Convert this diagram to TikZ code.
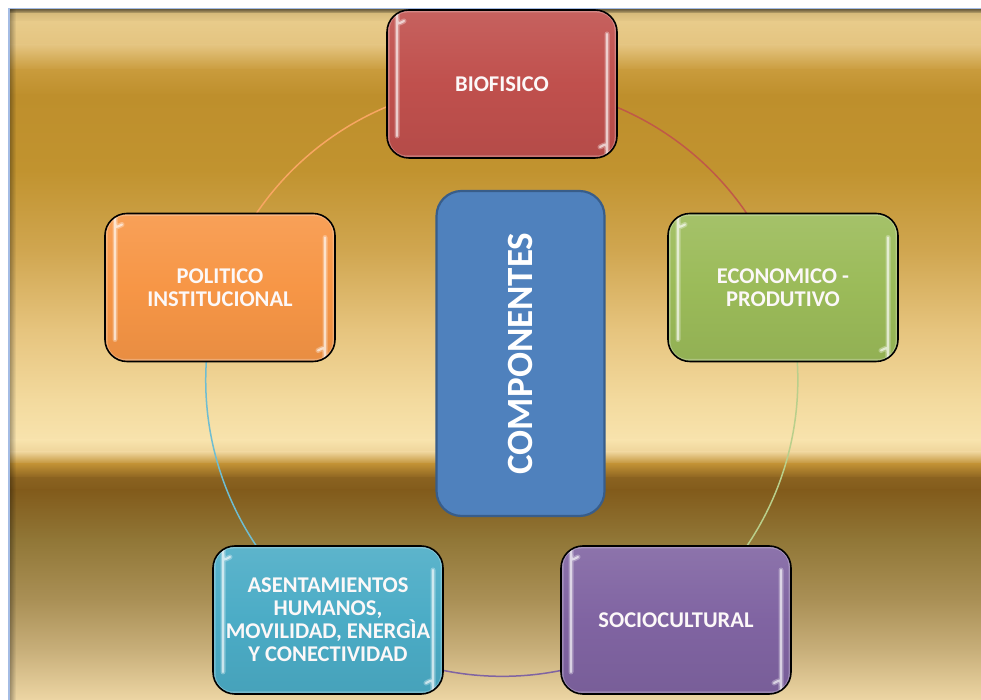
\documentclass[tikz,border=0pt]{standalone}
\usepackage{fontspec}
\setmainfont{Carlito}
\pgfdeclarelayer{back}
\pgfdeclarelayer{arcs}
\pgfsetlayers{back,arcs,main}
\definecolor{cred}{HTML}{C0504D}
\definecolor{cgreen}{HTML}{9BBB59}
\definecolor{corange}{HTML}{F79646}
\definecolor{cteal}{HTML}{4BACC6}
\definecolor{cpurple}{HTML}{8064A2}
\definecolor{cblue}{HTML}{4F81BD}
\definecolor{cblueb}{HTML}{385D8A}
\definecolor{cline}{HTML}{A4BCE4}
\definecolor{g0}{HTML}{8C7A50}
\definecolor{g1}{HTML}{D8BC7C}
\definecolor{g2}{HTML}{E8CB8A}
\definecolor{g3}{HTML}{E4C480}
\definecolor{g4}{HTML}{C99B3C}
\definecolor{g5}{HTML}{BE8F2C}
\definecolor{g6}{HTML}{C1932F}
\definecolor{g7}{HTML}{D0A650}
\definecolor{g8}{HTML}{E6C47E}
\definecolor{g9}{HTML}{F3DA9E}
\definecolor{g10}{HTML}{F8E3AD}
\definecolor{g11}{HTML}{EED49A}
\definecolor{g12}{HTML}{C09034}
\definecolor{g13}{HTML}{8A6220}
\definecolor{g14}{HTML}{825B1B}
\definecolor{g15}{HTML}{917737}
\definecolor{g16}{HTML}{AA9056}
\definecolor{g17}{HTML}{C8AF7A}
\definecolor{g18}{HTML}{EDD6A4}
\tikzset{
  gloss/.style={path picture={
    \draw[white, opacity=0.25, line width=5pt, rounded corners=20pt]
      (path picture bounding box.south west) rectangle (path picture bounding box.north east);
    \draw[white, opacity=0.3, line width=5pt, line cap=round]
      ([xshift=17pt,yshift=-11pt]path picture bounding box.north west)
      to[out=200,in=90] ([xshift=10pt,yshift=-24pt]path picture bounding box.north west)
      -- ([xshift=10pt,yshift=22pt]path picture bounding box.south west);
    \draw[white, opacity=0.3, line width=5pt, line cap=round]
      ([xshift=-10pt,yshift=-24pt]path picture bounding box.north east)
      -- ([xshift=-10pt,yshift=24pt]path picture bounding box.south east)
      to[out=-90,in=20] ([xshift=-17pt,yshift=11pt]path picture bounding box.south east);
    \draw[white, opacity=0.6, line width=2.2pt, line cap=round]
      ([xshift=17pt,yshift=-11pt]path picture bounding box.north west)
      to[out=200,in=90] ([xshift=10pt,yshift=-24pt]path picture bounding box.north west)
      -- ([xshift=10pt,yshift=22pt]path picture bounding box.south west);
    \draw[white, opacity=0.6, line width=2.2pt, line cap=round]
      ([xshift=-10pt,yshift=-24pt]path picture bounding box.north east)
      -- ([xshift=-10pt,yshift=24pt]path picture bounding box.south east)
      to[out=-90,in=20] ([xshift=-17pt,yshift=11pt]path picture bounding box.south east);
  }},
  comp/.style={draw=black, line width=1.6pt, rounded corners=22pt,
    minimum width=230pt, minimum height=148pt, inner sep=0pt,
    text width=226pt, align=flush center, text=white!96!cred,
    font=\fontsize{22.5}{23}\selectfont\bfseries,
    top color=#1!90!white, bottom color=#1!94!black, middle color=#1, gloss},
  centerbox/.style={draw=cblueb, line width=2.2pt, rounded corners=25pt,
    fill=cblue, minimum width=325pt, minimum height=168pt, inner sep=0pt,
    text=white, font=\fontsize{37}{40}\selectfont\bfseries},
  arcline/.style={line width=1.5pt, draw=#1},
}
\begin{document}
\begin{tikzpicture}[x=1pt,y=1pt]
\useasboundingbox (0,0) rectangle (981,700);
% boxes
\node[comp=cred] (bio) at (502,616) {BIOFISICO};
\node[comp=cgreen] (eco) at (783,412.5) {ECONOMICO -\\PRODUTIVO};
\node[comp=corange] (pol) at (220,412.5) {POLITICO\\INSTITUCIONAL};
\node[comp=cteal] (ase) at (328,80) {ASENTAMIENTOS\\HUMANOS,\\MOVILIDAD, ENERGÌA\\Y CONECTIVIDAD};
\node[comp=cpurple] (soc) at (676,80) {SOCIOCULTURAL};
\node[centerbox, rotate=90] (cmp) at (520.5,346.5) {COMPONENTES};
% cycle arcs
\begin{pgfonlayer}{arcs}
\draw[arcline=cred!85!g5] (bio.center) arc[start angle=90, end angle=18.2, radius=296];
\draw[arcline=cgreen!70!white] (eco.center) arc[start angle=18.2, end angle=-54.06, radius=296];
\draw[arcline=cpurple] (soc.center) arc[start angle=-54.06, end angle=-125.94, radius=296];
\draw[arcline=cteal!80!white] (ase.center) arc[start angle=234.06, end angle=161.84, radius=296];
\draw[arcline=corange!85!white] (pol.center) arc[start angle=161.84, end angle=90, radius=296];
\end{pgfonlayer}
% background
\begin{pgfonlayer}{back}
\fill[white] (0,0) rectangle (981,700);
\foreach \ya/\ca/\yb/\cb in {9/g0/14/g1, 14/g1/22/g2, 22/g2/45/g3, 45/g3/70/g4,
   70/g4/95/g5, 95/g5/170/g6, 170/g6/250/g7, 250/g7/330/g8, 330/g8/400/g9,
   400/g9/440/g10, 440/g10/452/g11, 452/g11/464/g12, 464/g12/478/g13,
   478/g13/490/g14, 490/g14/540/g15, 540/g15/600/g16, 600/g16/650/g17,
   650/g17/700/g18}
  {\shade[top color=\ca, bottom color=\cb] (8,{700-\ya}) rectangle (981,{700-\yb-0.6});}
\foreach \i in {0,...,5}
  {\fill[black, opacity={0.3*(1-\i/6)}] ({9.5+\i},0) rectangle ({10.5+\i},690.5);}
\foreach \i in {0,...,3}
  {\fill[black, opacity={0.25*(1-\i/4)}] (9.5,{689.5-\i}) rectangle (981,{690.5-\i});}
\fill[cline] (8,0) rectangle (9.5,692);
\fill[cline] (8,690.5) rectangle (981,692);
\end{pgfonlayer}
\end{tikzpicture}
\end{document}
